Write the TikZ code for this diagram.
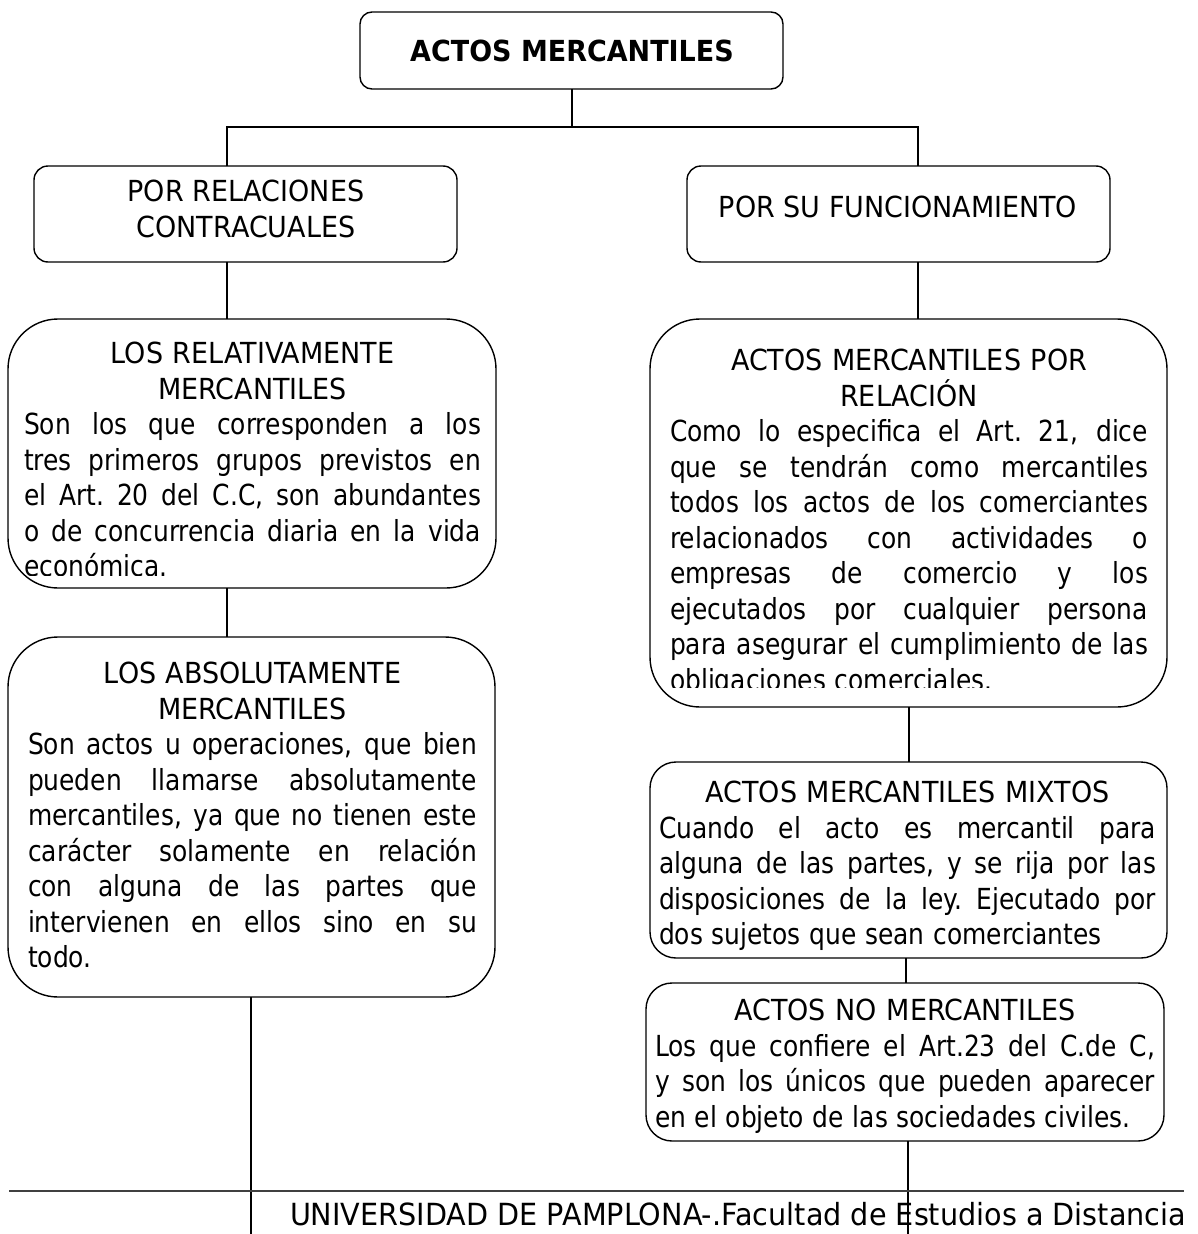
\documentclass[tikz,border=0pt]{standalone}
\usepackage{fontspec}
\usepackage{graphicx}
\setmainfont{DejaVu Sans}[FakeStretch=0.86]
\newfontfamily\capsfont{DejaVu Sans}[FakeStretch=0.93]
\newcommand{\myjl}[1]{{\spaceskip=0.3em plus 1fil\relax\xspaceskip=0.3em plus 1fil\relax\makebox[\hsize][s]{#1}}}
\newcommand{\mycl}[1]{\makebox[\hsize][c]{\capsfont #1}}
\newcommand{\myll}[1]{{\spaceskip=0.3em\relax\xspaceskip=0.3em\relax\makebox[\hsize][l]{#1}}}
\tikzset{
  x=1pt, y=-1pt,
  box/.style={draw=black, line width=1.4pt, inner sep=0pt, outer sep=0pt, anchor=north west},
  txt/.style={inner sep=0pt, outer sep=0pt, align=center, font=\fontsize{29}{35.5}\selectfont},
  conn/.style={draw=black, line width=1.4pt},
}
\begin{document}
\begin{tikzpicture}
\fill[white] (0,0) rectangle (1198,1234);
\useasboundingbox (0,0) rectangle (1198,1234);

% boxes
\node[box, rounded corners=12pt, minimum width=423pt, minimum height=77pt] (top) at (360,12) {};
\node[box, rounded corners=14pt, minimum width=423pt, minimum height=96pt] (L1) at (34,166) {};
\node[box, rounded corners=14pt, minimum width=423pt, minimum height=96pt] (R1) at (687,166) {};
\node[box, rounded corners=50pt, minimum width=488pt, minimum height=269pt] (L2) at (8,319) {};
\node[box, rounded corners=50pt, minimum width=487pt, minimum height=360pt] (L3) at (8,637) {};
\node[box, rounded corners=50pt, minimum width=517pt, minimum height=388pt] (R2) at (650,319) {};
\node[box, rounded corners=26pt, minimum width=517pt, minimum height=196pt] (R3) at (650,762) {};
\node[box, rounded corners=26pt, minimum width=518pt, minimum height=158pt] (R4) at (646,983) {};

% texts
\node[txt, font=\fontsize{29}{35.5}\selectfont\capsfont\bfseries] (topt) at (572,51) {ACTOS MERCANTILES};
\node[txt, font=\fontsize{29}{35.5}\selectfont\capsfont] (L1t) at (246,209) {POR RELACIONES\\CONTRACUALES};
\node[txt, font=\fontsize{29}{35.5}\selectfont\capsfont] (R1t) at (898,207) {POR SU FUNCIONAMIENTO};

\begin{scope}
\clip (8,319) rectangle (496,575);
\node[txt, text width=457pt, anchor=north west] (L2t) at (24,342) {%
\mycl{LOS RELATIVAMENTE}\\
\mycl{MERCANTILES}\\
\myjl{Son los que corresponden a los}\\
\myjl{tres primeros grupos previstos en}\\
\myjl{el Art. 20 del C.C, son abundantes}\\
\myjl{o de concurrencia diaria en la vida}\\
\myll{económica.}};
\end{scope}

\node[txt, text width=449pt, anchor=north west] (L3t) at (28,662) {%
\mycl{LOS ABSOLUTAMENTE}\\
\mycl{MERCANTILES}\\
\myjl{Son actos u operaciones, que bien}\\
\myjl{pueden llamarse absolutamente}\\
\myjl{mercantiles, ya que no tienen este}\\
\myjl{carácter solamente en relación}\\
\myjl{con alguna de las partes que}\\
\myjl{intervienen en ellos sino en su}\\
\myll{todo.}};

\begin{scope}
\clip (650,319) rectangle (1167,687);
\node[txt, text width=478pt, anchor=north west] (R2t) at (670,349) {%
\mycl{ACTOS MERCANTILES POR}\\
\mycl{RELACIÓN}\\
\myjl{Como lo especifica el Art. 21, dice}\\
\myjl{que se tendrán como mercantiles}\\
\myjl{todos los actos de los comerciantes}\\
\myjl{relacionados con actividades o}\\
\myjl{empresas de comercio y los}\\
\myjl{ejecutados por cualquier persona}\\
\myjl{para asegurar el cumplimiento de las}\\
\myll{obligaciones comerciales.}};
\end{scope}

\node[txt, text width=497pt, anchor=north west] (R3t) at (659,781) {%
\mycl{ACTOS MERCANTILES MIXTOS}\\
\myjl{Cuando el acto es mercantil para}\\
\myjl{alguna de las partes, y se rija por las}\\
\myjl{disposiciones de la ley. Ejecutado por}\\
\myll{dos sujetos que sean comerciantes}};

\node[txt, text width=500pt, anchor=north west] (R4t) at (655,999) {%
\mycl{ACTOS NO MERCANTILES}\\
\myjl{Los que confiere el Art.23 del C.de C,}\\
\myjl{y son los únicos que pueden aparecer}\\
\myll{en el objeto de las sociedades civiles.}};

% connector positions
\coordinate (xT) at (572,0);
\coordinate (xL) at (227,0);
\coordinate (xR) at (918,0);
\coordinate (busY) at (0,127);
\coordinate (xL3) at (251,0);
\coordinate (xR2) at (909,0);
\coordinate (xR3) at (906,0);
\coordinate (xR4) at (908,0);
\coordinate (endL) at (251,1234);
\coordinate (endR) at (908,1234);

\draw[conn] (top.south -| xT) -- (busY -| xT);
\draw[conn] (L1.north -| xL) |- (busY -| xT) -| (R1.north -| xR);
\draw[conn] (L1.south -| xL) -- (L2.north -| xL);
\draw[conn] (L2.south -| xL) -- (L3.north -| xL);
\draw[conn] (L3.south -| xL3) -- (endL);
\draw[conn] (R1.south -| xR) -- (R2.north -| xR);
\draw[conn] (R2.south -| xR2) -- (R3.north -| xR2);
\draw[conn] (R3.south -| xR3) -- (R4.north -| xR3);
\draw[conn] (R4.south -| xR4) -- (endR);

% footer
\coordinate (fl) at (9,1191);
\coordinate (fr) at (1184,1191);
\draw[draw=black!75, line width=1.2pt] (fl) -- (fr);
\node[txt, anchor=base west] (foot) at (290,1225) {\resizebox{896pt}{\height}{\fontsize{30.5}{36}\selectfont UNIVERSIDAD DE PAMPLONA-.Facultad de Estudios a Distancia}};
\end{tikzpicture}
\end{document}
